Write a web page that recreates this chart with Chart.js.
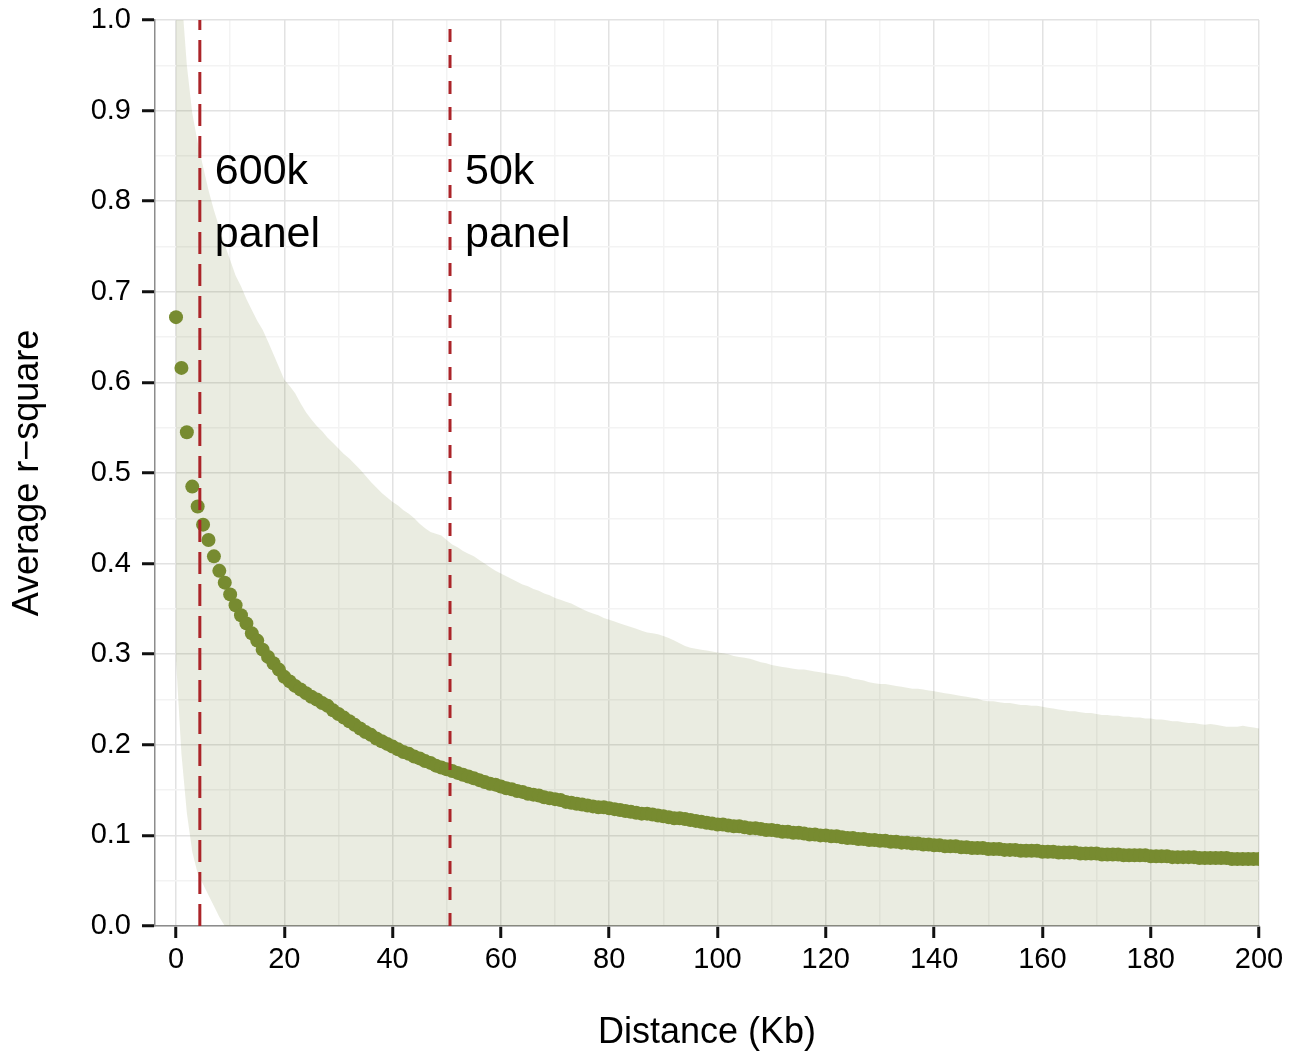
<!DOCTYPE html>
<html>
<head>
<meta charset="utf-8">
<title>Average r-square by distance</title>
<script src="https://cdn.jsdelivr.net/npm/chart.js@4.4.0/dist/chart.umd.min.js"></script>
<style>
  html, body { margin: 0; padding: 0; background: #fff; }
  canvas { display: block; }
</style>
</head>
<body>
<canvas id="ldChart" width="1305" height="1055"></canvas>
<script>
// Average r-square per 1 Kb distance bin (0..200 Kb)
const rSquare = [
  0.672, 0.616, 0.545, 0.485, 0.463, 0.443, 0.426, 0.408, 0.392, 0.379,
  0.366, 0.354, 0.343, 0.334, 0.323, 0.315, 0.305, 0.297, 0.290, 0.283,
  0.275, 0.270, 0.265, 0.261, 0.257, 0.253, 0.250, 0.246, 0.243, 0.238,
  0.234, 0.230, 0.226, 0.222, 0.218, 0.214, 0.211, 0.207, 0.204, 0.201,
  0.198, 0.195, 0.192, 0.190, 0.187, 0.185, 0.182, 0.180, 0.177, 0.175,
  0.173, 0.171, 0.169, 0.167, 0.165, 0.163, 0.161, 0.159, 0.157, 0.156,
  0.154, 0.152, 0.151, 0.149, 0.148, 0.146, 0.145, 0.144, 0.142, 0.141,
  0.140, 0.139, 0.137, 0.136, 0.135, 0.134, 0.133, 0.132, 0.131, 0.131,
  0.130, 0.129, 0.128, 0.127, 0.126, 0.125, 0.124, 0.124, 0.123, 0.122,
  0.121, 0.120, 0.119, 0.119, 0.118, 0.117, 0.116, 0.115, 0.114, 0.113,
  0.112, 0.112, 0.111, 0.110, 0.110, 0.109, 0.108, 0.108, 0.107, 0.106,
  0.106, 0.105, 0.104, 0.104, 0.103, 0.103, 0.102, 0.101, 0.101, 0.100,
  0.100, 0.099, 0.099, 0.098, 0.097, 0.097, 0.096, 0.096, 0.095, 0.095,
  0.094, 0.094, 0.093, 0.093, 0.092, 0.092, 0.091, 0.091, 0.090, 0.090,
  0.089, 0.089, 0.088, 0.088, 0.088, 0.087, 0.087, 0.086, 0.086, 0.086,
  0.085, 0.085, 0.085, 0.084, 0.084, 0.084, 0.083, 0.083, 0.083, 0.083,
  0.082, 0.082, 0.082, 0.081, 0.081, 0.081, 0.081, 0.080, 0.080, 0.080,
  0.080, 0.079, 0.079, 0.079, 0.079, 0.078, 0.078, 0.078, 0.078, 0.078,
  0.077, 0.077, 0.077, 0.077, 0.076, 0.076, 0.076, 0.076, 0.076, 0.075,
  0.075, 0.075, 0.075, 0.075, 0.075, 0.074, 0.074, 0.074, 0.074, 0.074,
  0.074
];

// Upper edge of the shaded band
const bandUpper = [
  1.250, 1.030, 0.950, 0.897, 0.865, 0.838, 0.812, 0.790, 0.771, 0.752,
  0.735, 0.718, 0.706, 0.692, 0.680, 0.668, 0.658, 0.645, 0.631, 0.617,
  0.603, 0.596, 0.588, 0.577, 0.567, 0.559, 0.552, 0.546, 0.539, 0.533,
  0.527, 0.521, 0.516, 0.510, 0.504, 0.497, 0.490, 0.484, 0.478, 0.473,
  0.468, 0.464, 0.459, 0.455, 0.450, 0.444, 0.439, 0.435, 0.433, 0.431,
  0.426, 0.421, 0.418, 0.414, 0.411, 0.408, 0.404, 0.400, 0.396, 0.392,
  0.389, 0.386, 0.383, 0.380, 0.377, 0.375, 0.372, 0.370, 0.367, 0.365,
  0.362, 0.360, 0.358, 0.356, 0.353, 0.350, 0.347, 0.345, 0.343, 0.340,
  0.338, 0.336, 0.334, 0.332, 0.330, 0.328, 0.326, 0.324, 0.323, 0.322,
  0.320, 0.318, 0.315, 0.312, 0.309, 0.307, 0.306, 0.305, 0.304, 0.303,
  0.302, 0.301, 0.300, 0.298, 0.297, 0.296, 0.295, 0.293, 0.291, 0.290,
  0.288, 0.287, 0.286, 0.285, 0.284, 0.283, 0.283, 0.282, 0.281, 0.280,
  0.279, 0.278, 0.277, 0.276, 0.275, 0.273, 0.272, 0.271, 0.269, 0.268,
  0.267, 0.267, 0.266, 0.265, 0.264, 0.263, 0.262, 0.262, 0.261, 0.260,
  0.259, 0.258, 0.257, 0.256, 0.255, 0.254, 0.253, 0.252, 0.251, 0.249,
  0.248, 0.248, 0.247, 0.246, 0.246, 0.245, 0.244, 0.244, 0.243, 0.243,
  0.242, 0.241, 0.240, 0.239, 0.238, 0.237, 0.237, 0.236, 0.235, 0.235,
  0.234, 0.233, 0.233, 0.232, 0.232, 0.231, 0.231, 0.230, 0.230, 0.229,
  0.229, 0.228, 0.228, 0.227, 0.226, 0.226, 0.225, 0.224, 0.224, 0.223,
  0.222, 0.223, 0.222, 0.221, 0.220, 0.220, 0.220, 0.221, 0.220, 0.219,
  0.218
];

// Lower edge of the shaded band (cut off at the axis)
const bandLower = [
  0.294, 0.190, 0.125, 0.082, 0.058, 0.046, 0.034, 0.022, 0.010, 0,
  0, 0, 0, 0, 0, 0, 0, 0, 0, 0,
  0, 0, 0, 0, 0, 0, 0, 0, 0, 0,
  0, 0, 0, 0, 0, 0, 0, 0, 0, 0,
  0, 0, 0, 0, 0, 0, 0, 0, 0, 0,
  0, 0, 0, 0, 0, 0, 0, 0, 0, 0,
  0, 0, 0, 0, 0, 0, 0, 0, 0, 0,
  0, 0, 0, 0, 0, 0, 0, 0, 0, 0,
  0, 0, 0, 0, 0, 0, 0, 0, 0, 0,
  0, 0, 0, 0, 0, 0, 0, 0, 0, 0,
  0, 0, 0, 0, 0, 0, 0, 0, 0, 0,
  0, 0, 0, 0, 0, 0, 0, 0, 0, 0,
  0, 0, 0, 0, 0, 0, 0, 0, 0, 0,
  0, 0, 0, 0, 0, 0, 0, 0, 0, 0,
  0, 0, 0, 0, 0, 0, 0, 0, 0, 0,
  0, 0, 0, 0, 0, 0, 0, 0, 0, 0,
  0, 0, 0, 0, 0, 0, 0, 0, 0, 0,
  0, 0, 0, 0, 0, 0, 0, 0, 0, 0,
  0, 0, 0, 0, 0, 0, 0, 0, 0, 0,
  0, 0, 0, 0, 0, 0, 0, 0, 0, 0,
  0
];

// distance bins are 1 Kb apart
const distanceKb = rSquare.map((_, i) => i);

// marker spacing of the two panels
const panelNames = ['600k', '50k'];
const panelSpacingKb = [4.4, 50.6];
const panelDash = [[22, 10], [13, 13]];

const xTickValues = [0, 10, 20, 30, 40, 50, 60, 70, 80, 90, 100,
  110, 120, 130, 140, 150, 160, 170, 180, 190, 200];
const yTickValues = [0, 0.05, 0.1, 0.15, 0.2, 0.25, 0.3, 0.35, 0.4, 0.45, 0.5,
  0.55, 0.6, 0.65, 0.7, 0.75, 0.8, 0.85, 0.9, 0.95, 1.0];

const FONT = '"Liberation Sans", Arial, Helvetica, sans-serif';
const GRID_MAJOR = '#e2e2e2';
const GRID_MINOR = '#f3f3f3';

function isMajorX(v) { return v % 20 === 0; }
function isMajorY(v) { return Math.abs(v * 10 - Math.round(v * 10)) < 1e-6; }

function toPoints(xs, ys) {
    return xs.map((x, i) => ({ x: x, y: ys[i] }));
}

// text next to the dashed lines
const panelLabels = {
    id: 'panelLabels',
    afterDatasetsDraw(chart) {
        const ctx = chart.ctx;
        const xs = chart.scales.x;
        const ys = chart.scales.y;
        ctx.save();
        ctx.font = '43px ' + FONT;
        ctx.fillStyle = '#000';
        ctx.textAlign = 'left';
        ctx.textBaseline = 'middle';
        panelNames.forEach((name, i) => {
            const px = xs.getPixelForValue(panelSpacingKb[i]) + 15;
            ctx.fillText(name, px, ys.getPixelForValue(0.832));
            ctx.fillText('panel', px, ys.getPixelForValue(0.762));
        });
        ctx.restore();
    }
};

const datasets = [];

panelSpacingKb.forEach((kb, i) => {
    datasets.push({
        type: 'line',
        data: [{ x: kb, y: 0 }, { x: kb, y: 1 }],
        borderColor: '#ab2429',
        borderWidth: 3,
        borderDash: panelDash[i],
        pointRadius: 0,
        fill: false,
        order: 0
    });
});

datasets.push({
    type: 'scatter',
    data: toPoints(distanceKb, rSquare),
    backgroundColor: '#778b30',
    borderWidth: 0,
    pointRadius: 7,
    pointHoverRadius: 7,
    order: 1
});

datasets.push({
    type: 'line',
    data: toPoints(distanceKb, bandUpper),
    borderColor: 'rgba(0,0,0,0)',
    backgroundColor: 'rgba(107,120,40,0.14)',
    pointRadius: 0,
    tension: 0,
    fill: '+1',
    order: 2
});

datasets.push({
    type: 'line',
    data: toPoints(distanceKb, bandLower),
    borderColor: 'rgba(0,0,0,0)',
    pointRadius: 0,
    tension: 0,
    fill: false,
    order: 3
});

new Chart(document.getElementById('ldChart'), {
    type: 'scatter',
    data: { datasets: datasets },
    options: {
        responsive: false,
        animation: false,
        events: [],
        layout: { padding: { top: 20, right: 46, bottom: 0, left: 0 } },
        plugins: {
            legend: { display: false },
            tooltip: { enabled: false }
        },
        scales: {
            x: {
                type: 'linear',
                min: -3.88,
                max: 200,
                afterBuildTicks: function(scale) {
                    scale.ticks = xTickValues.map(v => ({ value: v }));
                },
                afterFit: function(scale) {
                    scale.height = 129;
                    scale.paddingLeft = 0;
                    scale.paddingRight = 0;
                },
                ticks: {
                    autoSkip: false,
                    maxRotation: 0,
                    padding: 5,
                    color: '#000',
                    font: { family: FONT, size: 29 },
                    callback: v => isMajorX(v) ? String(v) : ''
                },
                grid: {
                    color: c => isMajorX(c.tick.value) ? GRID_MAJOR : GRID_MINOR,
                    lineWidth: 1.5,
                    tickLength: 12,
                    tickWidth: 3,
                    tickColor: c => isMajorX(c.tick.value) ? '#111' : 'rgba(0,0,0,0)'
                },
                border: { color: '#8c8c8c', width: 1.5 },
                title: {
                    display: true,
                    text: 'Distance (Kb)',
                    color: '#000',
                    font: { family: FONT, size: 36, lineHeight: 1.2 },
                    padding: { top: 0, bottom: 0 }
                }
            },
            y: {
                type: 'linear',
                min: 0,
                max: 1,
                afterBuildTicks: function(scale) {
                    scale.ticks = yTickValues.map(v => ({ value: v }));
                },
                afterFit: function(scale) {
                    scale.width = 155;
                    scale.paddingTop = 0;
                    scale.paddingBottom = 0;
                },
                ticks: {
                    autoSkip: false,
                    padding: 11,
                    color: '#000',
                    font: { family: FONT, size: 29 },
                    callback: v => isMajorY(v) ? v.toFixed(1) : ''
                },
                grid: {
                    color: c => isMajorY(c.tick.value) ? GRID_MAJOR : GRID_MINOR,
                    lineWidth: 1.5,
                    tickLength: 13,
                    tickWidth: 3,
                    tickColor: c => isMajorY(c.tick.value) ? '#111' : 'rgba(0,0,0,0)'
                },
                border: { color: '#8c8c8c', width: 1.5 },
                title: {
                    display: true,
                    text: 'Average r\u2212square',
                    color: '#000',
                    font: { family: FONT, size: 36, lineHeight: 1.2 },
                    padding: { top: 6, bottom: 0 }
                }
            }
        }
    },
    plugins: [panelLabels]
});
</script>
</body>
</html>
